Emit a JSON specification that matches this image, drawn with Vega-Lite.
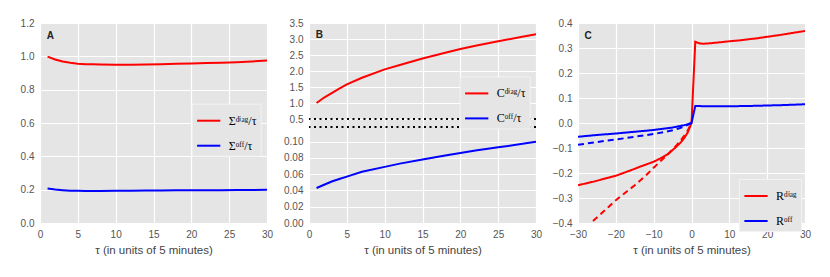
{
  "$schema": "https://vega.github.io/schema/vega-lite/v6.json",
  "background": "white",
  "padding": {"left": 20, "top": 18, "right": 10, "bottom": 4},
  "spacing": 42,
  "bounds": "flush",
  "datasets": {
    "A": [
      {"tau": 1, "v": 0.998, "s": "Σᵈⁱᵃᵍ/τ"}, {"tau": 2, "v": 0.981, "s": "Σᵈⁱᵃᵍ/τ"}, {"tau": 3, "v": 0.969, "s": "Σᵈⁱᵃᵍ/τ"},
      {"tau": 4, "v": 0.961, "s": "Σᵈⁱᵃᵍ/τ"}, {"tau": 5, "v": 0.956, "s": "Σᵈⁱᵃᵍ/τ"}, {"tau": 6, "v": 0.953, "s": "Σᵈⁱᵃᵍ/τ"},
      {"tau": 7, "v": 0.952, "s": "Σᵈⁱᵃᵍ/τ"}, {"tau": 8, "v": 0.951, "s": "Σᵈⁱᵃᵍ/τ"}, {"tau": 10, "v": 0.95, "s": "Σᵈⁱᵃᵍ/τ"},
      {"tau": 12, "v": 0.95, "s": "Σᵈⁱᵃᵍ/τ"}, {"tau": 14, "v": 0.951, "s": "Σᵈⁱᵃᵍ/τ"}, {"tau": 16, "v": 0.953, "s": "Σᵈⁱᵃᵍ/τ"},
      {"tau": 18, "v": 0.955, "s": "Σᵈⁱᵃᵍ/τ"}, {"tau": 20, "v": 0.957, "s": "Σᵈⁱᵃᵍ/τ"}, {"tau": 22, "v": 0.96, "s": "Σᵈⁱᵃᵍ/τ"},
      {"tau": 24, "v": 0.962, "s": "Σᵈⁱᵃᵍ/τ"}, {"tau": 26, "v": 0.965, "s": "Σᵈⁱᵃᵍ/τ"}, {"tau": 28, "v": 0.969, "s": "Σᵈⁱᵃᵍ/τ"},
      {"tau": 30, "v": 0.975, "s": "Σᵈⁱᵃᵍ/τ"},
      {"tau": 1, "v": 0.207, "s": "Σᵒᶠᶠ/τ"}, {"tau": 2, "v": 0.201, "s": "Σᵒᶠᶠ/τ"}, {"tau": 3, "v": 0.197, "s": "Σᵒᶠᶠ/τ"},
      {"tau": 4, "v": 0.194, "s": "Σᵒᶠᶠ/τ"}, {"tau": 5, "v": 0.193, "s": "Σᵒᶠᶠ/τ"}, {"tau": 6, "v": 0.192, "s": "Σᵒᶠᶠ/τ"},
      {"tau": 7, "v": 0.192, "s": "Σᵒᶠᶠ/τ"}, {"tau": 8, "v": 0.192, "s": "Σᵒᶠᶠ/τ"}, {"tau": 10, "v": 0.193, "s": "Σᵒᶠᶠ/τ"},
      {"tau": 12, "v": 0.194, "s": "Σᵒᶠᶠ/τ"}, {"tau": 14, "v": 0.195, "s": "Σᵒᶠᶠ/τ"}, {"tau": 16, "v": 0.195, "s": "Σᵒᶠᶠ/τ"},
      {"tau": 18, "v": 0.196, "s": "Σᵒᶠᶠ/τ"}, {"tau": 20, "v": 0.196, "s": "Σᵒᶠᶠ/τ"}, {"tau": 22, "v": 0.197, "s": "Σᵒᶠᶠ/τ"},
      {"tau": 24, "v": 0.197, "s": "Σᵒᶠᶠ/τ"}, {"tau": 26, "v": 0.198, "s": "Σᵒᶠᶠ/τ"}, {"tau": 28, "v": 0.198, "s": "Σᵒᶠᶠ/τ"},
      {"tau": 30, "v": 0.199, "s": "Σᵒᶠᶠ/τ"}
    ],
    "B": [
      {"tau": 1, "v": 1.0, "s": "Cᵈⁱᵃᵍ/τ"}, {"tau": 2, "v": 1.17, "s": "Cᵈⁱᵃᵍ/τ"}, {"tau": 3, "v": 1.31, "s": "Cᵈⁱᵃᵍ/τ"},
      {"tau": 4, "v": 1.45, "s": "Cᵈⁱᵃᵍ/τ"}, {"tau": 5, "v": 1.58, "s": "Cᵈⁱᵃᵍ/τ"}, {"tau": 7, "v": 1.79, "s": "Cᵈⁱᵃᵍ/τ"},
      {"tau": 10, "v": 2.05, "s": "Cᵈⁱᵃᵍ/τ"}, {"tau": 12, "v": 2.19, "s": "Cᵈⁱᵃᵍ/τ"}, {"tau": 15, "v": 2.39, "s": "Cᵈⁱᵃᵍ/τ"},
      {"tau": 18, "v": 2.57, "s": "Cᵈⁱᵃᵍ/τ"}, {"tau": 20, "v": 2.69, "s": "Cᵈⁱᵃᵍ/τ"}, {"tau": 22, "v": 2.79, "s": "Cᵈⁱᵃᵍ/τ"},
      {"tau": 25, "v": 2.93, "s": "Cᵈⁱᵃᵍ/τ"}, {"tau": 28, "v": 3.06, "s": "Cᵈⁱᵃᵍ/τ"}, {"tau": 30, "v": 3.15, "s": "Cᵈⁱᵃᵍ/τ"},
      {"tau": 1, "v": 0.043, "s": "Cᵒᶠᶠ/τ"}, {"tau": 2, "v": 0.047, "s": "Cᵒᶠᶠ/τ"}, {"tau": 3, "v": 0.051, "s": "Cᵒᶠᶠ/τ"},
      {"tau": 4, "v": 0.054, "s": "Cᵒᶠᶠ/τ"}, {"tau": 5, "v": 0.057, "s": "Cᵒᶠᶠ/τ"}, {"tau": 7, "v": 0.063, "s": "Cᵒᶠᶠ/τ"},
      {"tau": 10, "v": 0.069, "s": "Cᵒᶠᶠ/τ"}, {"tau": 12, "v": 0.073, "s": "Cᵒᶠᶠ/τ"}, {"tau": 15, "v": 0.078, "s": "Cᵒᶠᶠ/τ"},
      {"tau": 18, "v": 0.083, "s": "Cᵒᶠᶠ/τ"}, {"tau": 20, "v": 0.086, "s": "Cᵒᶠᶠ/τ"}, {"tau": 22, "v": 0.089, "s": "Cᵒᶠᶠ/τ"},
      {"tau": 25, "v": 0.093, "s": "Cᵒᶠᶠ/τ"}, {"tau": 28, "v": 0.097, "s": "Cᵒᶠᶠ/τ"}, {"tau": 30, "v": 0.1, "s": "Cᵒᶠᶠ/τ"}
    ],
    "C": [
      {"tau": -30, "v": -0.249, "s": "Rᵈⁱᵃᵍ", "k": "full"}, {"tau": -28, "v": -0.242, "s": "Rᵈⁱᵃᵍ", "k": "full"},
      {"tau": -26, "v": -0.235, "s": "Rᵈⁱᵃᵍ", "k": "full"}, {"tau": -24, "v": -0.227, "s": "Rᵈⁱᵃᵍ", "k": "full"},
      {"tau": -22, "v": -0.219, "s": "Rᵈⁱᵃᵍ", "k": "full"}, {"tau": -20, "v": -0.211, "s": "Rᵈⁱᵃᵍ", "k": "full"},
      {"tau": -18, "v": -0.2, "s": "Rᵈⁱᵃᵍ", "k": "full"}, {"tau": -16, "v": -0.189, "s": "Rᵈⁱᵃᵍ", "k": "full"},
      {"tau": -14, "v": -0.177, "s": "Rᵈⁱᵃᵍ", "k": "full"}, {"tau": -12, "v": -0.166, "s": "Rᵈⁱᵃᵍ", "k": "full"},
      {"tau": -10, "v": -0.155, "s": "Rᵈⁱᵃᵍ", "k": "full"}, {"tau": -8, "v": -0.14, "s": "Rᵈⁱᵃᵍ", "k": "full"},
      {"tau": -6, "v": -0.122, "s": "Rᵈⁱᵃᵍ", "k": "full"}, {"tau": -5, "v": -0.108, "s": "Rᵈⁱᵃᵍ", "k": "full"},
      {"tau": -4, "v": -0.095, "s": "Rᵈⁱᵃᵍ", "k": "full"}, {"tau": -3, "v": -0.08, "s": "Rᵈⁱᵃᵍ", "k": "full"},
      {"tau": -2, "v": -0.062, "s": "Rᵈⁱᵃᵍ", "k": "full"}, {"tau": -1, "v": -0.038, "s": "Rᵈⁱᵃᵍ", "k": "full"},
      {"tau": 0, "v": 0.0, "s": "Rᵈⁱᵃᵍ", "k": "full"}, {"tau": 1, "v": 0.325, "s": "Rᵈⁱᵃᵍ", "k": "full"},
      {"tau": 2, "v": 0.319, "s": "Rᵈⁱᵃᵍ", "k": "full"}, {"tau": 3, "v": 0.317, "s": "Rᵈⁱᵃᵍ", "k": "full"},
      {"tau": 4, "v": 0.318, "s": "Rᵈⁱᵃᵍ", "k": "full"}, {"tau": 5, "v": 0.319, "s": "Rᵈⁱᵃᵍ", "k": "full"},
      {"tau": 7, "v": 0.322, "s": "Rᵈⁱᵃᵍ", "k": "full"}, {"tau": 10, "v": 0.327, "s": "Rᵈⁱᵃᵍ", "k": "full"},
      {"tau": 13, "v": 0.331, "s": "Rᵈⁱᵃᵍ", "k": "full"}, {"tau": 15, "v": 0.335, "s": "Rᵈⁱᵃᵍ", "k": "full"},
      {"tau": 17, "v": 0.338, "s": "Rᵈⁱᵃᵍ", "k": "full"}, {"tau": 20, "v": 0.345, "s": "Rᵈⁱᵃᵍ", "k": "full"},
      {"tau": 23, "v": 0.351, "s": "Rᵈⁱᵃᵍ", "k": "full"}, {"tau": 25, "v": 0.356, "s": "Rᵈⁱᵃᵍ", "k": "full"},
      {"tau": 27, "v": 0.361, "s": "Rᵈⁱᵃᵍ", "k": "full"}, {"tau": 30, "v": 0.368, "s": "Rᵈⁱᵃᵍ", "k": "full"},
      {"tau": -30, "v": -0.445, "s": "Rᵈⁱᵃᵍ", "k": "part"}, {"tau": -27, "v": -0.405, "s": "Rᵈⁱᵃᵍ", "k": "part"},
      {"tau": -25, "v": -0.378, "s": "Rᵈⁱᵃᵍ", "k": "part"}, {"tau": -22, "v": -0.337, "s": "Rᵈⁱᵃᵍ", "k": "part"},
      {"tau": -20, "v": -0.309, "s": "Rᵈⁱᵃᵍ", "k": "part"}, {"tau": -17, "v": -0.273, "s": "Rᵈⁱᵃᵍ", "k": "part"},
      {"tau": -15, "v": -0.249, "s": "Rᵈⁱᵃᵍ", "k": "part"}, {"tau": -12, "v": -0.209, "s": "Rᵈⁱᵃᵍ", "k": "part"},
      {"tau": -10, "v": -0.179, "s": "Rᵈⁱᵃᵍ", "k": "part"}, {"tau": -8, "v": -0.15, "s": "Rᵈⁱᵃᵍ", "k": "part"},
      {"tau": -6, "v": -0.121, "s": "Rᵈⁱᵃᵍ", "k": "part"}, {"tau": -5, "v": -0.106, "s": "Rᵈⁱᵃᵍ", "k": "part"},
      {"tau": -4, "v": -0.09, "s": "Rᵈⁱᵃᵍ", "k": "part"}, {"tau": -3, "v": -0.072, "s": "Rᵈⁱᵃᵍ", "k": "part"},
      {"tau": -2, "v": -0.052, "s": "Rᵈⁱᵃᵍ", "k": "part"}, {"tau": -1, "v": -0.03, "s": "Rᵈⁱᵃᵍ", "k": "part"},
      {"tau": 0, "v": 0.0, "s": "Rᵈⁱᵃᵍ", "k": "part"},
      {"tau": -30, "v": -0.055, "s": "Rᵒᶠᶠ", "k": "full"}, {"tau": -25, "v": -0.048, "s": "Rᵒᶠᶠ", "k": "full"},
      {"tau": -20, "v": -0.042, "s": "Rᵒᶠᶠ", "k": "full"}, {"tau": -15, "v": -0.035, "s": "Rᵒᶠᶠ", "k": "full"},
      {"tau": -10, "v": -0.028, "s": "Rᵒᶠᶠ", "k": "full"}, {"tau": -7, "v": -0.022, "s": "Rᵒᶠᶠ", "k": "full"},
      {"tau": -5, "v": -0.018, "s": "Rᵒᶠᶠ", "k": "full"}, {"tau": -3, "v": -0.012, "s": "Rᵒᶠᶠ", "k": "full"},
      {"tau": -2, "v": -0.009, "s": "Rᵒᶠᶠ", "k": "full"}, {"tau": -1, "v": -0.005, "s": "Rᵒᶠᶠ", "k": "full"},
      {"tau": 0, "v": 0.0, "s": "Rᵒᶠᶠ", "k": "full"}, {"tau": 1, "v": 0.068, "s": "Rᵒᶠᶠ", "k": "full"},
      {"tau": 2, "v": 0.068, "s": "Rᵒᶠᶠ", "k": "full"}, {"tau": 3, "v": 0.067, "s": "Rᵒᶠᶠ", "k": "full"},
      {"tau": 5, "v": 0.067, "s": "Rᵒᶠᶠ", "k": "full"}, {"tau": 10, "v": 0.067, "s": "Rᵒᶠᶠ", "k": "full"},
      {"tau": 15, "v": 0.068, "s": "Rᵒᶠᶠ", "k": "full"}, {"tau": 20, "v": 0.07, "s": "Rᵒᶠᶠ", "k": "full"},
      {"tau": 25, "v": 0.072, "s": "Rᵒᶠᶠ", "k": "full"}, {"tau": 30, "v": 0.075, "s": "Rᵒᶠᶠ", "k": "full"},
      {"tau": -30, "v": -0.087, "s": "Rᵒᶠᶠ", "k": "part"}, {"tau": -25, "v": -0.076, "s": "Rᵒᶠᶠ", "k": "part"},
      {"tau": -20, "v": -0.066, "s": "Rᵒᶠᶠ", "k": "part"}, {"tau": -15, "v": -0.055, "s": "Rᵒᶠᶠ", "k": "part"},
      {"tau": -10, "v": -0.044, "s": "Rᵒᶠᶠ", "k": "part"}, {"tau": -7, "v": -0.036, "s": "Rᵒᶠᶠ", "k": "part"},
      {"tau": -5, "v": -0.029, "s": "Rᵒᶠᶠ", "k": "part"}, {"tau": -3, "v": -0.02, "s": "Rᵒᶠᶠ", "k": "part"},
      {"tau": -2, "v": -0.014, "s": "Rᵒᶠᶠ", "k": "part"}, {"tau": -1, "v": -0.007, "s": "Rᵒᶠᶠ", "k": "part"},
      {"tau": 0, "v": 0.0, "s": "Rᵒᶠᶠ", "k": "part"}
    ]
  },
  "hconcat": [
    {
      "width": 227,
      "height": 200,
      "layer": [
        {
          "data": {"name": "A"},
          "mark": {"type": "line", "strokeWidth": 2, "clip": true},
          "encoding": {
            "x": {"field": "tau", "type": "quantitative", "scale": {"domain": [0, 30], "nice": false},
                  "axis": {"values": [0, 5, 10, 15, 20, 25, 30], "format": "d", "title": "τ (in units of 5 minutes)"}},
            "y": {"field": "v", "type": "quantitative", "scale": {"domain": [0, 1.2], "nice": false},
                  "axis": {"values": [0, 0.2, 0.4, 0.6, 0.8, 1.0, 1.2], "format": ".1f", "title": null}},
            "color": {"field": "s", "type": "nominal",
                      "scale": {"domain": ["Σᵈⁱᵃᵍ/τ", "Σᵒᶠᶠ/τ"], "range": ["#ff0000", "#0000ff"]},
                      "legend": {"title": null, "orient": "none", "legendX": 151.7, "legendY": 80.7}}
          }
        },
        {
          "data": {"values": [{"x": 0.9, "y": 1.125, "t": "A"}]},
          "mark": {"type": "text", "align": "left", "baseline": "middle", "fontWeight": "bold", "fontSize": 10, "font": "Liberation Sans", "color": "#222222"},
          "encoding": {
            "x": {"field": "x", "type": "quantitative"},
            "y": {"field": "y", "type": "quantitative"},
            "text": {"field": "t"}
          }
        }
      ]
    },
    {
      "width": 227,
      "height": 200,
      "layer": [
        {
          "data": {"name": "B"},
          "mark": {"type": "line", "strokeWidth": 2, "clip": true},
          "encoding": {
            "x": {"field": "tau", "type": "quantitative", "scale": {"domain": [0, 30], "nice": false},
                  "axis": {"values": [0, 5, 10, 15, 20, 25, 30], "format": "d", "title": "τ (in units of 5 minutes)"}},
            "y": {"field": "v", "type": "quantitative",
                  "scale": {"domain": [0, 0.118, 0.5, 3.5], "range": [200, 104, 96, 0], "nice": false, "zero": false},
                  "axis": {"values": [0, 0.02, 0.04, 0.06, 0.08, 0.1, 0.5, 1.0, 1.5, 2.0, 2.5, 3.0, 3.5],
                           "labelExpr": "datum.value < 0.3 ? format(datum.value, '.2f') : format(datum.value, '.1f')", "title": null}},
            "color": {"field": "s", "type": "nominal",
                      "scale": {"domain": ["Cᵈⁱᵃᵍ/τ", "Cᵒᶠᶠ/τ"], "range": ["#ff0000", "#0000ff"]},
                      "legend": {"title": null, "orient": "none", "legendX": 150.7, "legendY": 53.4}}
          }
        },
        {
          "data": {"values": [{"y": 0.5}, {"y": 0.118}]},
          "mark": {"type": "rule", "color": "black", "strokeWidth": 2, "strokeDash": [2, 3.5]},
          "encoding": {"y": {"field": "y", "type": "quantitative"}}
        },
        {
          "data": {"values": [{"x": 0.9, "y": 3.11, "t": "B"}]},
          "mark": {"type": "text", "align": "left", "baseline": "middle", "fontWeight": "bold", "fontSize": 10, "font": "Liberation Sans", "color": "#222222"},
          "encoding": {
            "x": {"field": "x", "type": "quantitative"},
            "y": {"field": "y", "type": "quantitative"},
            "text": {"field": "t"}
          }
        }
      ]
    },
    {
      "width": 227,
      "height": 200,
      "layer": [
        {
          "data": {"name": "C"},
          "mark": {"type": "line", "strokeWidth": 2, "clip": true},
          "encoding": {
            "x": {"field": "tau", "type": "quantitative", "scale": {"domain": [-30, 30], "nice": false},
                  "axis": {"values": [-30, -20, -10, 0, 10, 20, 30], "format": "d", "title": "τ (in units of 5 minutes)"}},
            "y": {"field": "v", "type": "quantitative", "scale": {"domain": [-0.4, 0.4], "nice": false},
                  "axis": {"values": [-0.4, -0.3, -0.2, -0.1, 0, 0.1, 0.2, 0.3, 0.4], "format": ".1f", "title": null}},
            "color": {"field": "s", "type": "nominal",
                      "scale": {"domain": ["Rᵈⁱᵃᵍ", "Rᵒᶠᶠ"], "range": ["#ff0000", "#0000ff"]},
                      "legend": {"title": null, "orient": "none", "legendX": 161, "legendY": 156}},
            "strokeDash": {"field": "k", "type": "nominal",
                           "scale": {"domain": ["full", "part"], "range": [[1, 0], [6, 4]]}, "legend": null}
          }
        },
        {
          "data": {"values": [{"x": -28.3, "y": 0.35, "t": "C"}]},
          "mark": {"type": "text", "align": "left", "baseline": "middle", "fontWeight": "bold", "fontSize": 10, "font": "Liberation Sans", "color": "#222222"},
          "encoding": {
            "x": {"field": "x", "type": "quantitative"},
            "y": {"field": "y", "type": "quantitative"},
            "text": {"field": "t"}
          }
        }
      ]
    }
  ],
  "resolve": {"scale": {"color": "independent", "strokeDash": "independent", "x": "independent", "y": "independent"}, "legend": {"color": "independent"}},
  "config": {
    "view": {"fill": "#E5E5E5", "stroke": null},
    "axis": {
      "domain": false, "ticks": false, "grid": true, "gridColor": "#ffffff", "gridWidth": 1.2, "gridOpacity": 1,
      "tickCount": 50, "labelOverlap": false, "labelBound": false, "labelFlush": false,
      "labelColor": "#555555", "labelFont": "Liberation Sans", "labelFontSize": 10, "labelPadding": 6,
      "titleColor": "#444444", "titleFont": "Liberation Sans", "titleFontSize": 11.5, "titleFontWeight": "normal", "titlePadding": 5
    },
    "legend": {
      "fillColor": "#E5E5E5", "strokeColor": "#F2F2F2", "padding": 4, "symbolType": "stroke", "symbolSize": 540,
      "symbolStrokeWidth": 2, "labelFont": "Liberation Serif", "labelFontSize": 12, "labelColor": "#000000",
      "rowPadding": 6, "labelOffset": 7, "cornerRadius": 0
    }
  }
}
